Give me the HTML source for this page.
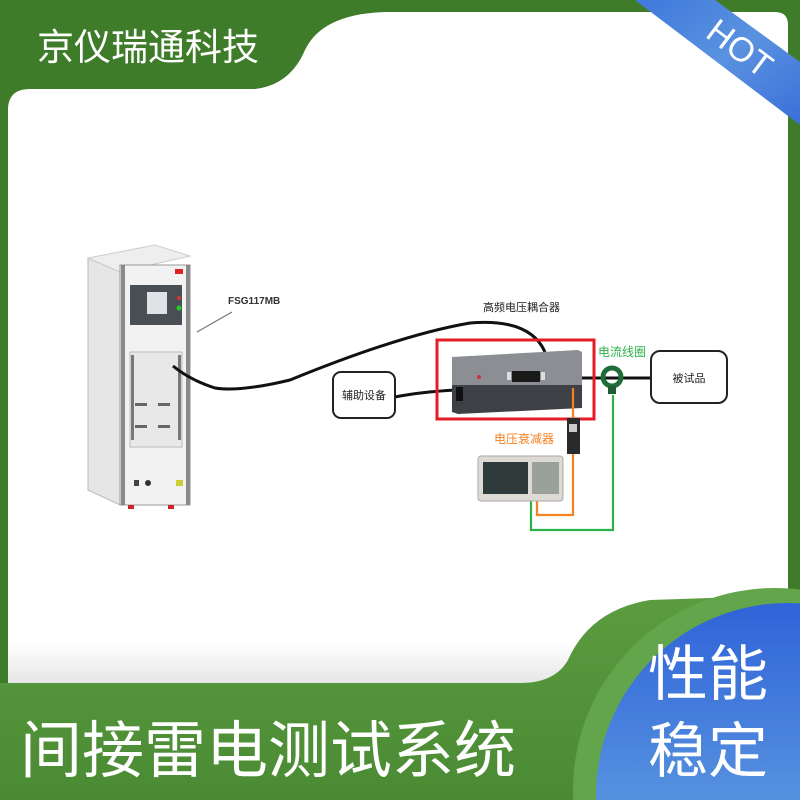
<!DOCTYPE html>
<html><head><meta charset="utf-8"><style>
html,body{margin:0;padding:0;width:800px;height:800px;overflow:hidden;background:#3f7c2a}
svg{display:block;position:absolute;left:0;top:0}
text{font-family:"Liberation Sans","Noto Sans CJK SC",sans-serif}
</style></head><body>
<svg width="800" height="800" viewBox="0 0 800 800" xmlns="http://www.w3.org/2000/svg">
<defs>
<linearGradient id="bg2" x1="0" y1="0" x2="0" y2="1"><stop offset="0" stop-color="#5b9c40"/><stop offset="1" stop-color="#4a8a33"/></linearGradient>
<linearGradient id="blu" x1="0" y1="0" x2="0" y2="1"><stop offset="0" stop-color="#2f63d8"/><stop offset="0.5" stop-color="#5590df"/><stop offset="1" stop-color="#3f74d8"/></linearGradient>
<linearGradient id="rib" x1="0" y1="0" x2="1" y2="1"><stop offset="0" stop-color="#3f78db"/><stop offset="0.5" stop-color="#5a92e0"/><stop offset="1" stop-color="#3b6fd8"/></linearGradient>
<linearGradient id="shade" x1="0" y1="0" x2="0" y2="1"><stop offset="0" stop-color="#fff"/><stop offset="0.93" stop-color="#fff"/><stop offset="1" stop-color="#e2e2e2"/></linearGradient>
</defs>
<rect width="800" height="800" fill="#3f7c2a"/>
<path d="M8,110 Q8,89 30,89 L255,89 Q290,85 305,50 Q322,14 385,12 L775,12 Q788,12 788,25 L788,690 L8,690 Z" fill="url(#shade)"/>
<path d="M0,683 L520,683 Q555,683 568,660 Q590,610 650,600 L800,595 L800,800 L0,800 Z" fill="url(#bg2)"/>
<circle cx="775" cy="790" r="202" fill="#63a54a"/>
<circle cx="788" cy="795" r="192" fill="url(#blu)"/>
<polygon points="635,0 715,0 800,62 800,125" fill="url(#rib)"/>
<text x="740" y="60" font-size="34" fill="#fff" text-anchor="middle" transform="rotate(37 740 48)">HOT</text>
<text x="37" y="60" font-size="37" fill="#fff">京仪瑞通科技</text>
<text x="20" y="772" font-size="62" fill="#fff">间接雷电测试系统</text>
<text x="648" y="695" font-size="60" fill="#fff">性能</text>
<text x="648" y="772" font-size="60" fill="#fff">稳定</text>

<polygon points="88,258 120,272 120,505 88,490" fill="#e6e6e6" stroke="#bbb"/>
<polygon points="88,258 155,245 190,256 120,272" fill="#eeeeee" stroke="#ccc"/>
<rect x="120" y="265" width="70" height="240" fill="#f2f2f2" stroke="#999"/>
<rect x="121" y="265" width="4" height="240" fill="#8a8a8a"/>
<rect x="186" y="265" width="4" height="240" fill="#8a8a8a"/>
<rect x="130" y="285" width="52" height="40" fill="#4a4f55"/>
<rect x="147" y="292" width="20" height="22" fill="#dfe3e6"/>
<circle cx="179" cy="298" r="2" fill="#d33"/><circle cx="179" cy="308" r="2.5" fill="#2c2"/>
<rect x="175" y="269" width="8" height="5" fill="#d22"/>
<rect x="130" y="352" width="52" height="95" fill="#e8e8e8" stroke="#bbb"/>
<rect x="131" y="355" width="3" height="85" fill="#777"/><rect x="178" y="355" width="3" height="85" fill="#777"/>
<rect x="135" y="403" width="12" height="3" fill="#666"/><rect x="158" y="403" width="12" height="3" fill="#666"/>
<rect x="135" y="425" width="12" height="3" fill="#666"/><rect x="158" y="425" width="12" height="3" fill="#666"/>
<rect x="134" y="480" width="5" height="6" fill="#444"/><circle cx="148" cy="483" r="3" fill="#333"/>
<rect x="176" y="480" width="7" height="6" fill="#cc3"/>
<rect x="128" y="505" width="6" height="4" fill="#c22"/><rect x="168" y="505" width="6" height="4" fill="#c22"/>
<line x1="197" y1="332" x2="232" y2="312" stroke="#777" stroke-width="1.2"/>
<text x="228" y="304" font-size="10" font-weight="bold" fill="#333">FSG117MB</text>

<path d="M173,366 Q190,380 215,388 Q240,392 290,380 Q400,335 470,323 Q530,318 545,352" fill="none" stroke="#111" stroke-width="3"/>
<path d="M395,397 Q420,392 456,390" fill="none" stroke="#111" stroke-width="3"/>
<path d="M582,378 L651,378" fill="none" stroke="#111" stroke-width="3"/>

<text x="483" y="311" font-size="11" fill="#222">高频电压耦合器</text>
<rect x="333" y="372" width="62" height="46" rx="8" fill="#fff" stroke="#222" stroke-width="2"/>
<text x="364" y="399" font-size="11" fill="#222" text-anchor="middle">辅助设备</text>
<rect x="651" y="351" width="76" height="52" rx="9" fill="#fff" stroke="#222" stroke-width="2"/>
<text x="689" y="382" font-size="11" fill="#222" text-anchor="middle">被试品</text>

<polygon points="452,357 578,350 582,352 582,385 452,385" fill="#8b8e92"/>
<polygon points="452,385 582,385 582,408 458,414 452,412" fill="#3d4146"/>
<rect x="456" y="387" width="7" height="14" fill="#111"/>
<rect x="512" y="371" width="28" height="11" fill="#1a1a1a"/>
<rect x="507" y="372" width="4" height="8" fill="#ddd"/><rect x="541" y="372" width="4" height="8" fill="#ddd"/>
<circle cx="479" cy="377" r="2" fill="#c33"/>
<rect x="437" y="340" width="157" height="79" fill="none" stroke="#e51c24" stroke-width="3"/>
<text x="598" y="356" font-size="12" fill="#2db34a">电流线圈</text>
<circle cx="612" cy="377" r="9" fill="none" stroke="#1f6e3a" stroke-width="5"/>
<rect x="608" y="386" width="8" height="8" fill="#1f5e33"/>
<polyline points="573,388 573,515 537,515 537,490" fill="none" stroke="#f58220" stroke-width="2.2"/>
<polyline points="613,395 613,530 531,530 531,490" fill="none" stroke="#2bb34a" stroke-width="2.2"/>
<rect x="567" y="418" width="13" height="36" fill="#2a2a2a"/>
<rect x="569" y="424" width="8" height="8" fill="#ccc"/>
<text x="494" y="443" font-size="12" fill="#f58220">电压衰减器</text>
<rect x="478" y="456" width="85" height="45" rx="3" fill="#dcdad2" stroke="#aaa"/>
<rect x="483" y="462" width="45" height="32" fill="#2f3a3a"/>
<rect x="532" y="462" width="27" height="32" fill="#9aa09a"/>
</svg>
</body></html>
